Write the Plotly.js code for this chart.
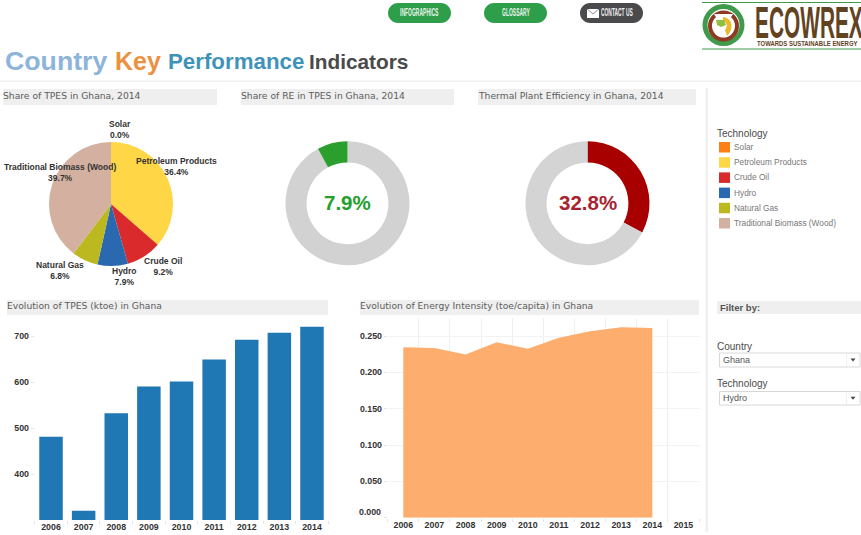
<!DOCTYPE html>
<html>
<head>
<meta charset="utf-8">
<script src="https://cdn.plot.ly/plotly-3.0.1.min.js"></script>
<style>
html,body{margin:0;padding:0;background:#fff;overflow:hidden}
#wrap{position:relative;width:861px;height:535px}
#g{position:absolute;left:0;top:0;width:861px;height:535px}
.sq{position:absolute;font-family:"Liberation Sans",Arial,sans-serif;font-weight:bold;transform-origin:0 50%;white-space:nowrap;line-height:1}
</style>
</head>
<body>
<div id="wrap"><div id="g"></div>
<div class="sq" style="left:755px;top:6px;font-size:43px;line-height:32px;color:#62431f;transform:scale(0.485,1.04)">ECOWREX</div>
<div class="sq" style="left:757px;top:41px;font-size:6.4px;color:#62431f;transform:scale(0.93,1)">TOWARDS SUSTAINABLE ENERGY</div>
<div class="sq" style="left:400px;top:8px;font-size:10px;color:#e8f2e8;transform:scale(0.5,1)">INFOGRAPHICS</div>
<div class="sq" style="left:502px;top:8px;font-size:10px;color:#e8f2e8;transform:scale(0.5,1)">GLOSSARY</div>
<div class="sq" style="left:601px;top:8px;font-size:10px;color:#f0f0f0;transform:scale(0.49,1)">CONTACT US</div>
</div>
<script>
const techLabels = ["Solar","Petroleum Products","Crude Oil","Hydro","Natural Gas","Traditional Biomass (Wood)"];
const techShares = [0.0,36.4,9.2,7.9,6.8,39.7];
const techColors = ["#fb8015","#ffd645","#da2a2c","#2a69b0","#bbb91f","#d3b09f"];
const reShare = [92.1,7.9];
const effShare = [32.8,67.2];
const tpesYears = ["2006","2007","2008","2009","2010","2011","2012","2013","2014"];
const tpesValues = [481,320,532,590,601,649,692,707,720];
const intensityYears = ["2006","2007","2008","2009","2010","2011","2012","2013","2014"];
const intensityAxisYears = ["2006","2007","2008","2009","2010","2011","2012","2013","2014","2015"];
const intensityValues = [0.2345,0.2335,0.2245,0.2415,0.2325,0.2475,0.2565,0.262,0.261];
const intensityTicks = [0,0.05,0.10,0.15,0.20,0.25];
const intensityTickText = ["","0.050","0.100","0.150","0.200","0.250"];

const W=861,H=535;
const px=x=>x/W, py=y=>1-y/H;
const shapes=[], ann=[];
const rect=(x0,y0,x1,y1,c,line)=>shapes.push({type:'rect',xref:'paper',yref:'paper',x0:px(x0),x1:px(x1),y0:py(y0),y1:py(y1),fillcolor:c,line:line||{width:0},layer:'below'});
const pathS=(d,c,line)=>shapes.push({type:'path',xref:'paper',yref:'paper',path:d,fillcolor:c,line:line||{width:0},layer:'below'});
const circ=(cx,cy,r,c,line)=>shapes.push({type:'circle',xref:'paper',yref:'paper',x0:px(cx-r),x1:px(cx+r),y0:py(cy+r),y1:py(cy-r),fillcolor:c,line:line||{width:0},layer:'below'});
const txt=(t,x,y,size,color,o)=>ann.push(Object.assign({text:t,xref:'paper',yref:'paper',x:px(x),y:py(y),showarrow:false,xanchor:'left',yanchor:'middle',borderpad:0,
  font:{family:'"Liberation Sans",Arial,sans-serif',size:size,color:color}},o||{}));
const B=s=>'<b>'+s+'</b>';
const pp=(x,y)=>px(x)+','+py(y);
const pill=(x0,y0,x1,y1,c)=>{const r=(y1-y0)/2,k=r*0.55;
  pathS('M'+pp(x0+r,y0)+' L'+pp(x1-r,y0)+' C'+pp(x1-r+k,y0)+' '+pp(x1,y0+r-k)+' '+pp(x1,y0+r)+' C'+pp(x1,y0+r+k)+' '+pp(x1-r+k,y1)+' '+pp(x1-r,y1)+' L'+pp(x0+r,y1)+' C'+pp(x0+r-k,y1)+' '+pp(x0,y0+r+k)+' '+pp(x0,y0+r)+' C'+pp(x0,y0+r-k)+' '+pp(x0+r-k,y0)+' '+pp(x0+r,y0)+' Z',c);};

// header buttons
pill(388,3,451,23,'#2f9e4b'); pill(484,3,547,23,'#2f9e4b'); pill(580,3,643,23,'#4a4a4c');
rect(587,9,599,18,'#ffffff');
pathS('M'+pp(587,9)+' L'+pp(593,14)+' L'+pp(599,9),'rgba(0,0,0,0)',{width:0.8,color:'#777'});

// logo
rect(702,2,861,3,'#3f9a4c'); rect(702,48.5,861,49.5,'#3f9a4c');
circ(723.5,25,21,'#3f9a4c'); circ(723.5,25,16,'#ffffff');
circ(723.5,26,13.5,'#ffffff',{width:4,color:'#8e3a22'});
pathS('M'+pp(714,14)+' L'+pp(733,14)+' L'+pp(725,27)+' L'+pp(722,27)+' Z','#ffffff');
pathS('M'+pp(723,17)+' C'+pp(732,18)+' '+pp(735,28)+' '+pp(727,36)+' L'+pp(725,30)+' C'+pp(728,26)+' '+pp(727,22)+' '+pp(723,21)+' Z','#e9b92e');
pathS('M'+pp(716,20)+' L'+pp(724,20)+' L'+pp(726,25)+' L'+pp(721,27)+' L'+pp(717,25)+' Z','#8fbf3f');

// big title
const tf='"Liberation Sans",Arial,sans-serif';
txt(B('Country'),3.5,60.5,26.7,'#8db4da');
txt(B('Key'),113.5,60.5,25,'#ec9140');
txt(B('Performance'),166.5,61.5,22.3,'#3f93b8');
txt(B('Indicators'),308,61.5,20.8,'#4a4a4a');

// separators
rect(0,80.5,861,82,'#f1f1f1');
rect(705.5,88,708,532,'#f0f0f0');

// panel headers
const head=(t,x0,x1,y0,y1)=>{rect(x0,y0,x1,y1,'#efefef');txt(t,x0-1,(y0+y1)/2-2,9.2,'#5c5c5c',{font:{family:'"DejaVu Sans",sans-serif',size:9.2,color:'#5c5c5c'}});};
head('Share of TPES in Ghana, 2014',3,217,89,105);
head('Share of RE in TPES in Ghana, 2014',241,454,89,105);
head('Thermal Plant Efficiency in Ghana, 2014',478,696,89,105);
head('Evolution of TPES (ktoe) in Ghana',7,328,300,315);
head('Evolution of Energy Intensity (toe/capita) in Ghana',360,699,300,315);

// pie labels
const pieLabelPos=[[120.5,129.5],[176.7,166.8],[163,266.8],[124,276.8],[60,270.8],[59.7,172.8]];
techLabels.forEach((l,i)=>txt(B(l)+'<br>'+B(techShares[i].toFixed(1)+'%'),pieLabelPos[i][0],pieLabelPos[i][1],8.5,'#333333',{xanchor:'center',align:'center'}));

// donut centre labels
txt(B(reShare[1].toFixed(1)+'%'),347.5,202,20.5,'#22a02c',{xanchor:'center'});
txt(B(effShare[0].toFixed(1)+'%'),587.5,202,20.5,'#a92230',{xanchor:'center'});

// legend
txt('Technology',716,133,10,'#4c4c4c');
techLabels.forEach((l,i)=>{const y=147+i*15.2;rect(719,y-5,730,y+5.5,techColors[i]);txt(l,733,y,8.3,'#777777');});

// filters
rect(717,301,861,314,'#efefef');
txt(B('Filter by:'),718.5,307.5,9.5,'#555555');
txt('Country',716,346,10,'#4c4c4c');
txt('Technology',716,384,10,'#4c4c4c');
const dd=(t,y0,y1)=>{rect(719.5,y0,860,y1,'#ffffff',{width:1,color:'#d8d8d8'});rect(846.5,y0+1,847,y1-1,'#e2e2e2');
  pathS('M'+pp(850.5,(y0+y1)/2-1.5)+' L'+pp(855.5,(y0+y1)/2-1.5)+' L'+pp(853,(y0+y1)/2+1.5)+' Z','#444');
  txt(t,721.5,(y0+y1)/2,9,'#555555');};
dd('Ghana',353,367); dd('Hydro',391.5,405);

// area 0.000 label (sits above its tick in the reference)
txt(B('0.000'),382,512.3,8.8,'#333333',{xanchor:'right'});

const pieDom=(cx,cy,r)=>({x:[px(cx-r),px(cx+r)],y:[py(cy+r),py(cy-r)]});
const tick={family:tf,size:8.8,color:'#333'};
const boldTicks=a=>a.map(B);

const traces=[
 {type:'pie',labels:techLabels,values:techShares,sort:false,direction:'clockwise',rotation:0,textinfo:'none',hoverinfo:'label+percent',
  marker:{colors:techColors,line:{width:0}},domain:pieDom(111,204,62),showlegend:false},
 {type:'pie',labels:['Other','RE'],values:reShare,sort:false,direction:'clockwise',rotation:0,hole:0.66,textinfo:'none',hoverinfo:'label+percent',
  marker:{colors:['#d2d2d2','#2b9f2d'],line:{width:0}},domain:pieDom(347.5,203.3,62),showlegend:false},
 {type:'pie',labels:['Efficiency','Other'],values:effShare,sort:false,direction:'clockwise',rotation:0,hole:0.66,textinfo:'none',hoverinfo:'label+percent',
  marker:{colors:['#a80000','#d4d4d4'],line:{width:0}},domain:pieDom(587.5,203.3,62),showlegend:false},
 {type:'bar',x:tpesYears,y:tpesValues,marker:{color:'#1f77b4',line:{width:0}},width:0.72,xaxis:'x',yaxis:'y',showlegend:false},
 {type:'scatter',mode:'lines',x:intensityYears,y:intensityValues,fill:'tozeroy',fillcolor:'rgba(253,170,102,0.95)',line:{width:0,color:'#fdaa66'},xaxis:'x2',yaxis:'y2',showlegend:false}
];
const layout={
 width:W,height:H,margin:{l:0,r:0,t:0,b:0},paper_bgcolor:'#fff',plot_bgcolor:'rgba(0,0,0,0)',showlegend:false,
 shapes:shapes,annotations:ann,bargap:0.28,
 xaxis:{domain:[px(34.7),px(328.3)],anchor:'y',type:'category',categoryorder:'array',categoryarray:tpesYears,tickvals:tpesYears,ticktext:boldTicks(tpesYears),
   range:[-0.5,8.5],tickson:'boundaries',ticks:'outside',ticklen:3,tickcolor:'#e4e4e4',showgrid:false,showline:false,zeroline:false,tickfont:tick,fixedrange:true},
 yaxis:{domain:[py(520),py(320)],anchor:'x',range:[300,734.8],tickvals:[400,500,600,700],ticktext:boldTicks(['400','500','600','700']),
   ticks:'outside',ticklen:3,tickcolor:'#e4e4e4',showgrid:false,showline:false,zeroline:false,tickfont:tick,fixedrange:true},
 xaxis2:{domain:[px(387.7),px(699)],anchor:'y2',type:'category',categoryorder:'array',categoryarray:intensityAxisYears,tickvals:intensityAxisYears,ticktext:boldTicks(intensityAxisYears),
   range:[-0.5,9.5],tickson:'boundaries',ticks:'outside',ticklen:3,tickcolor:'#e4e4e4',showgrid:true,gridcolor:'#efefef',gridwidth:1,showline:false,zeroline:false,tickfont:tick,fixedrange:true},
 yaxis2:{domain:[py(517.7),py(318)],anchor:'x2',range:[0,0.2748],tickvals:intensityTicks,ticktext:intensityTickText.map(s=>s?B(s):s),
   ticks:'outside',ticklen:3,tickcolor:'#e4e4e4',showgrid:true,gridcolor:'#f3f3f3',gridwidth:1,showline:false,zeroline:false,tickfont:tick,fixedrange:true}
};
Plotly.newPlot('g',traces,layout,{displayModeBar:false,staticPlot:true});
</script>
</body>
</html>
